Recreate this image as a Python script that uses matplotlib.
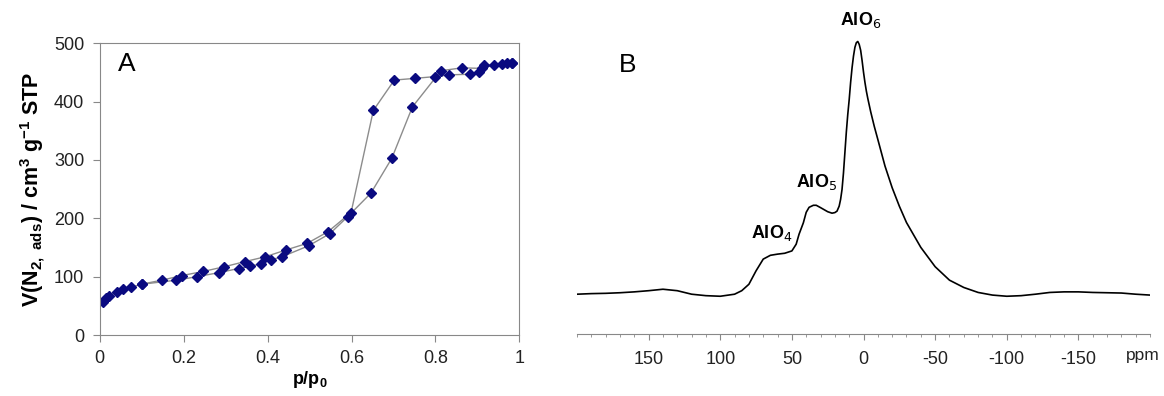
import matplotlib
matplotlib.use('Agg')
from matplotlib import pyplot as plt
from matplotlib.ticker import MultipleLocator, FixedLocator

plt.rcParams['font.family'] = ['Liberation Sans', 'DejaVu Sans']
plt.rcParams['axes.unicode_minus'] = False

# panel A: N2 isotherm
ads_p = [0.009, 0.015, 0.023, 0.041, 0.055, 0.076, 0.1, 0.183, 0.232, 0.285, 0.331,
         0.359, 0.384, 0.408, 0.434, 0.498, 0.549, 0.591, 0.646, 0.696, 0.745, 0.813,
         0.863, 0.910, 0.939, 0.971, 0.981]
ads_v = [57, 63, 67, 74, 79, 82, 87, 94, 100, 107, 114,
         118, 122, 129, 134, 153, 174, 203, 243, 303, 391, 453,
         458, 457, 463, 466, 467]
des_p = [0.981, 0.959, 0.916, 0.904, 0.882, 0.833, 0.799, 0.752, 0.702, 0.652, 0.599,
         0.544, 0.494, 0.445, 0.394, 0.347, 0.297, 0.247, 0.197, 0.148, 0.1]
des_v = [467, 464, 462, 450, 447, 446, 443, 440, 437, 385, 210,
         177, 157, 146, 134, 126, 117, 109, 102, 94, 87]
a_ticks = [0, 0.2, 0.4, 0.6, 0.8, 1]
a_ticklabels = ['0', '0.2', '0.4', '0.6', '0.8', '1']

# panel B: 27Al MAS NMR spectrum (arbitrary units)
ppm = [200, 190, 180, 170, 160, 150, 140, 130, 120, 110, 100, 90, 85, 80, 75, 70,
       65, 60, 55, 50, 47, 45, 42, 40, 38, 35, 33, 30, 25, 22, 20, 18.5, 17, 16, 15,
       14, 13, 12, 11, 10, 9, 8, 7, 6, 5, 4, 3, 2, 1, 0, -1, -2, -3, -5, -7.5,
       -10, -15, -20, -25, -30, -40, -50, -60, -70, -80, -90, -100, -110,
       -120, -130, -140, -150, -160, -170, -180, -190, -200]
intensity = [13.6, 13.8, 13.9, 14.1, 14.4, 14.8, 15.3, 14.8, 13.6, 13.1, 12.9, 13.6,
             14.8, 17.0, 21.6, 25.6, 26.9, 27.3, 27.6, 28.4, 30.7, 34.1, 38.0, 41.6,
             43.3, 44.0, 44.0, 43.2, 41.8, 41.3, 41.5, 42.0, 43.7, 46.0, 49.4,
             55.0, 62.0, 69.0, 75.0, 80.1, 86.0, 91.0, 95.0, 98.0, 99.6, 100.0, 99.0,
             97.0, 93.5, 89.5, 86.0, 83.0, 80.5, 76.0, 71.0,
             66.5, 57.4, 50.0, 43.7, 38.1, 29.6, 23.0, 18.4, 15.9, 14.2, 13.3,
             12.9, 13.1, 13.6, 14.2, 14.4, 14.4, 14.2, 14.1, 14.0, 13.6, 13.3]
b_ticks = [150, 100, 50, 0, -50, -100, -150]
peak_labels = ['AlO$_4$', 'AlO$_5$', 'AlO$_6$']
peak_pos = [(64.2, 34.4), (32.9, 51.8), (2.3, 107.4)]

fig = plt.figure(figsize=(11.64, 3.96), dpi=100)
grey = '#888888'
navy = '#0a0a80'

axa = fig.add_axes([0.0855, 0.154, 0.3608, 0.7366])
axa.plot(ads_p, ads_v, color='#8c8c8c', lw=1.0, zorder=1)
axa.plot(des_p, des_v, color='#8c8c8c', lw=1.0, zorder=1)
axa.plot(ads_p, ads_v, 'D', color=navy, ms=5.5, zorder=2)
axa.plot(des_p, des_v, 'D', color=navy, ms=5.5, zorder=2)
axa.set_xlim(0, 1)
axa.set_ylim(0, 500)
axa.set_xticks(a_ticks)
axa.set_xticklabels(a_ticklabels)
axa.yaxis.set_major_locator(MultipleLocator(100))
for s in axa.spines.values():
    s.set_color(grey)
axa.tick_params(direction='out', length=5, color=grey, labelsize=13,
                labelcolor='#222222', pad=6)
axa.set_xlabel('p/p$_\\mathregular{0}$', fontsize=13, fontweight='bold', labelpad=1)
axa.set_ylabel('V(N$_\\mathregular{2,\\ ads}$) / cm$^\\mathregular{3}$ g$^\\mathregular{-1}$ STP',
               fontsize=15.5, fontweight='bold', labelpad=5)
axa.text(0.045, 464, 'A', fontsize=19, va='center', ha='left')

axb = fig.add_axes([0.4957, 0.1566, 0.4923, 0.831])
axb.plot(ppm, intensity, color='black', lw=1.2)
axb.set_xlim(200, -200)
axb.set_ylim(0, 112.5)
for side in ['left', 'right', 'top']:
    axb.spines[side].set_visible(False)
axb.spines['bottom'].set_color(grey)
axb.set_yticks([])
axb.xaxis.set_major_locator(FixedLocator(b_ticks))
axb.xaxis.set_minor_locator(MultipleLocator(10))
axb.tick_params(axis='x', which='major', direction='out', length=4, color=grey,
                labelsize=13, labelcolor='#222222', pad=8)
axb.tick_params(axis='x', which='minor', direction='out', length=2.5, color=grey)
axb.annotate('ppm', xy=(-195, 0), xytext=(0, -10), textcoords='offset points',
             ha='center', va='top', fontsize=12.5, color='#222222')
for lab, (xp, yp) in zip(peak_labels, peak_pos):
    axb.text(xp, yp, lab, fontsize=13, fontweight='bold', ha='center', va='center')
axb.text(165, 92, 'B', fontsize=19, va='center', ha='center')

fig.savefig('out.png', dpi=100)
